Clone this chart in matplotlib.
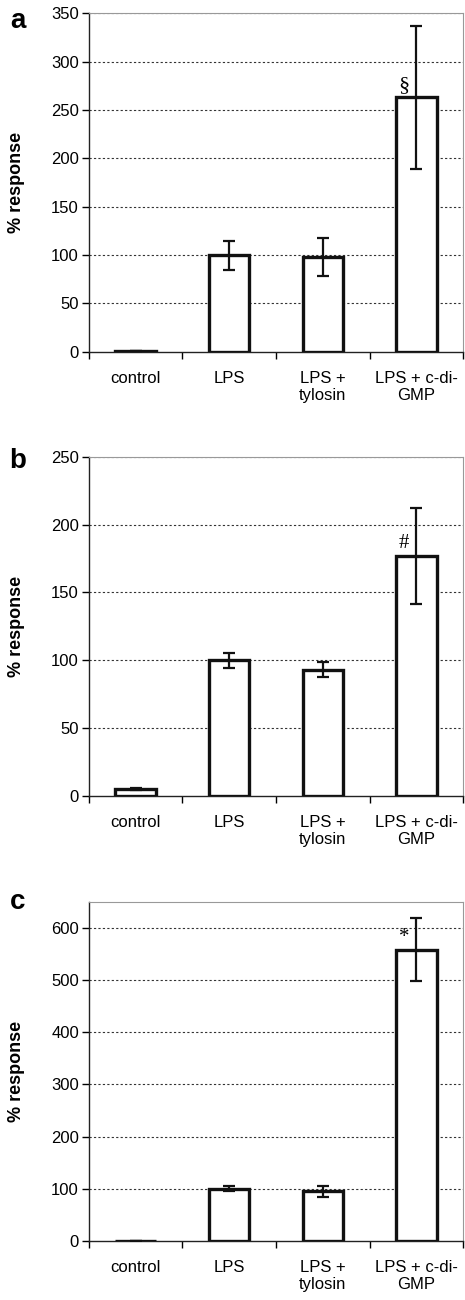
import matplotlib
matplotlib.use("Agg")
import matplotlib.pyplot as plt
import numpy as np

plt.rcParams['font.family'] = ['Liberation Sans', 'DejaVu Sans']

groups = ['control', 'LPS', 'LPS +\ntylosin', 'LPS + c-di-\nGMP']

# panel a
resp_a = [1, 100, 98, 263]
err_a = [0, 15, 19.5, 74]
# panel b
resp_b = [5, 100, 93, 177]
err_b = [0.8, 5.5, 5.5, 35.5]
# panel c
resp_c = [0.5, 100, 95, 558]
err_c = [0, 5, 11, 60]

panels = [
    ('a', resp_a, err_a, 350, np.arange(0, 351, 50), '\u00a7', 3, 16),
    ('b', resp_b, err_b, 250, np.arange(0, 251, 50), '#', 3, 15),
    ('c', resp_c, err_c, 650, np.arange(0, 601, 100), '*', 3, 15),
]
# axes boxes in figure fraction: bottom, top
boxes = [(0.7295, 0.9897), (0.3877, 0.6487), (0.0454, 0.3064)]
letter_y = [0.9785, 0.6397, 0.3005]

fig = plt.figure(figsize=(4.65, 13), dpi=100)
left, right = 0.1907, 0.9964

for (lab, vals, errs, ymax, ticks, mark, mi, msz), (b, t), ly in zip(panels, boxes, letter_y):
    ax = fig.add_axes([left, b, right - left, t - b])
    x = np.arange(len(groups))
    ax.bar(x, vals, width=0.43, color='white', edgecolor='#111111', linewidth=2.4, zorder=3)
    ax.errorbar(x, vals, yerr=errs, fmt='none', ecolor='#111111', elinewidth=1.6,
                capsize=4.3, capthick=1.6, zorder=4)
    ax.set_xlim(-0.5, len(groups) - 0.5)
    ax.set_ylim(0, ymax)
    ax.set_yticks(ticks)
    ax.set_yticklabels([str(v) for v in ticks], fontsize=12)
    ax.set_xticks(np.arange(len(groups) + 1) - 0.5)
    ax.set_xticklabels([])
    ax.set_xticks(x, minor=True)
    ax.set_xticklabels(groups, minor=True, fontsize=12, linespacing=1.15)
    ax.tick_params(axis='x', which='minor', length=0, pad=14)
    ax.tick_params(axis='x', which='major', length=5, width=1, direction='out')
    ax.tick_params(axis='y', length=5, width=1, direction='out', pad=2)
    for v in ticks[1:]:
        ax.axhline(v, color='#333333', linestyle=(0, (2, 2)), linewidth=0.8, zorder=1)
    for s in ['left', 'bottom']:
        ax.spines[s].set_color('#222222')
        ax.spines[s].set_linewidth(1.0)
    for s in ['top', 'right']:
        ax.spines[s].set_color('#999999')
        ax.spines[s].set_linewidth(0.8)
    ax.set_ylabel('% response', fontsize=13, fontweight='bold')
    ax.yaxis.set_label_coords(-0.17, 0.5)
    # significance mark
    ax.text(mi - 0.135, vals[mi] + 0.008 * ymax, mark, ha='center', va='bottom',
            fontsize=msz, family=['Liberation Serif', 'DejaVu Serif'])
    fig.text(0.038, ly, lab, fontsize=20, fontweight='bold', ha='center', va='baseline')

plt.savefig('out.png', dpi=100)
